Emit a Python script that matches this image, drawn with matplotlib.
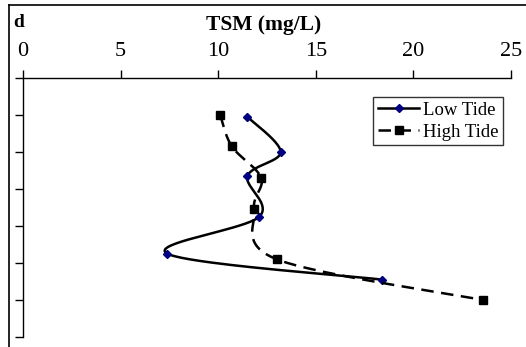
import numpy as np
import matplotlib
matplotlib.use('Agg')
import matplotlib.pyplot as plt
from matplotlib.lines import Line2D

plt.rcParams['font.family'] = ['Liberation Serif', 'DejaVu Serif']

# TSM (mg/L) vs depth (depth increases downward)
low_tsm = [11.5, 13.2, 11.5, 12.1, 7.4, 18.4]
low_depth = [1.05, 2.0, 2.65, 3.75, 4.75, 5.45]
high_tsm = [10.1, 10.7, 12.2, 11.85, 13.0, 23.55]
high_depth = [1.0, 1.85, 2.7, 3.55, 4.9, 6.0]

xticks = [0, 5, 10, 15, 20, 25]
yticks = [0, 1, 2, 3, 4, 5, 6, 7]

# pixel per data unit, used so the smoothing behaves like in screen space
SX, SY = 19.5, 37.0


def smooth(xs, ys, n=40):
    #catmull-rom style bezier through all points, like excel smoothed lines
    p = np.column_stack([np.array(xs) * SX, np.array(ys) * SY])
    pts = np.vstack([p[0], p, p[-1]])
    out = []
    t = np.linspace(0, 1, n)[:, None]
    for i in range(1, len(pts) - 2):
        p0, p1, p2, p3 = pts[i - 1], pts[i], pts[i + 1], pts[i + 2]
        c1 = p1 + (p2 - p0) / 6.0
        c2 = p2 - (p3 - p1) / 6.0
        seg = ((1 - t) ** 3) * p1 + 3 * ((1 - t) ** 2) * t * c1 + 3 * (1 - t) * t ** 2 * c2 + t ** 3 * p2
        out.append(seg)
    out = np.vstack(out)
    return out[:, 0] / SX, out[:, 1] / SY


fig = plt.figure(figsize=(5.26, 3.47), dpi=100)
ax = fig.add_axes([23 / 526, 1 - 337 / 347, 488 / 526, 259 / 347])

lx, ly = smooth(low_tsm, low_depth)
hx, hy = smooth(high_tsm, high_depth)

LW = 1.8
ax.plot(lx, ly, color='black', lw=LW, solid_capstyle='butt')
ax.plot(low_tsm, low_depth, ls='none', marker='D', ms=4.5, mfc='#000080', mec='#000080')
hl, = ax.plot(hx, hy, color='black', lw=LW, dash_capstyle='butt')
hl.set_dashes((5, 3))
ax.plot(high_tsm, high_depth, ls='none', marker='s', ms=6, mfc='black', mec='black')

ax.set_xlim(0, 25)
ax.set_ylim(7, 0)
ax.set_xticks(xticks)
ax.set_yticks(yticks)
ax.set_yticklabels([])
ax.xaxis.tick_top()
ax.tick_params(axis='x', direction='out', length=6, width=1, labelsize=16, pad=6)
ax.tick_params(axis='y', direction='out', length=6, width=1)
for s in ['right', 'bottom']:
    ax.spines[s].set_visible(False)
for s in ['left', 'top']:
    ax.spines[s].set_linewidth(1)

# axis title placed above the tick labels
fig.text(264 / 526, 1 - 30 / 347, 'TSM (mg/L)', fontsize=15.5, fontweight='bold', ha='center', va='baseline')

handles = [
    Line2D([], [], color='black', lw=LW, marker='D', ms=4.5, mfc='#000080', mec='#000080'),
    Line2D([], [], color='black', lw=LW, ls=(0, (5, 3)), marker='s', ms=6, mfc='black', mec='black'),
]
leg = ax.legend(handles, ['Low Tide', 'High Tide'], loc='upper right', bbox_to_anchor=(0.984, 0.927),
                borderaxespad=0, fontsize=13.5, frameon=True, fancybox=False, handlelength=2.2,
                handletextpad=0.2, borderpad=0.25, labelspacing=0.25)
leg.get_frame().set_edgecolor('black')
leg.get_frame().set_linewidth(1)

# outer chart frame (top and left only visible in the crop)
fig.add_artist(Line2D([9.5 / 526, 1], [1 - 5 / 347, 1 - 5 / 347], color='black', lw=1.2))
fig.add_artist(Line2D([9.5 / 526, 9.5 / 526], [0, 1 - 5 / 347], color='black', lw=1.2))
fig.text(13 / 526, 1 - 27 / 347, 'd', fontsize=14, fontweight='bold', ha='left', va='baseline')

fig.savefig('out.png', dpi=100)
